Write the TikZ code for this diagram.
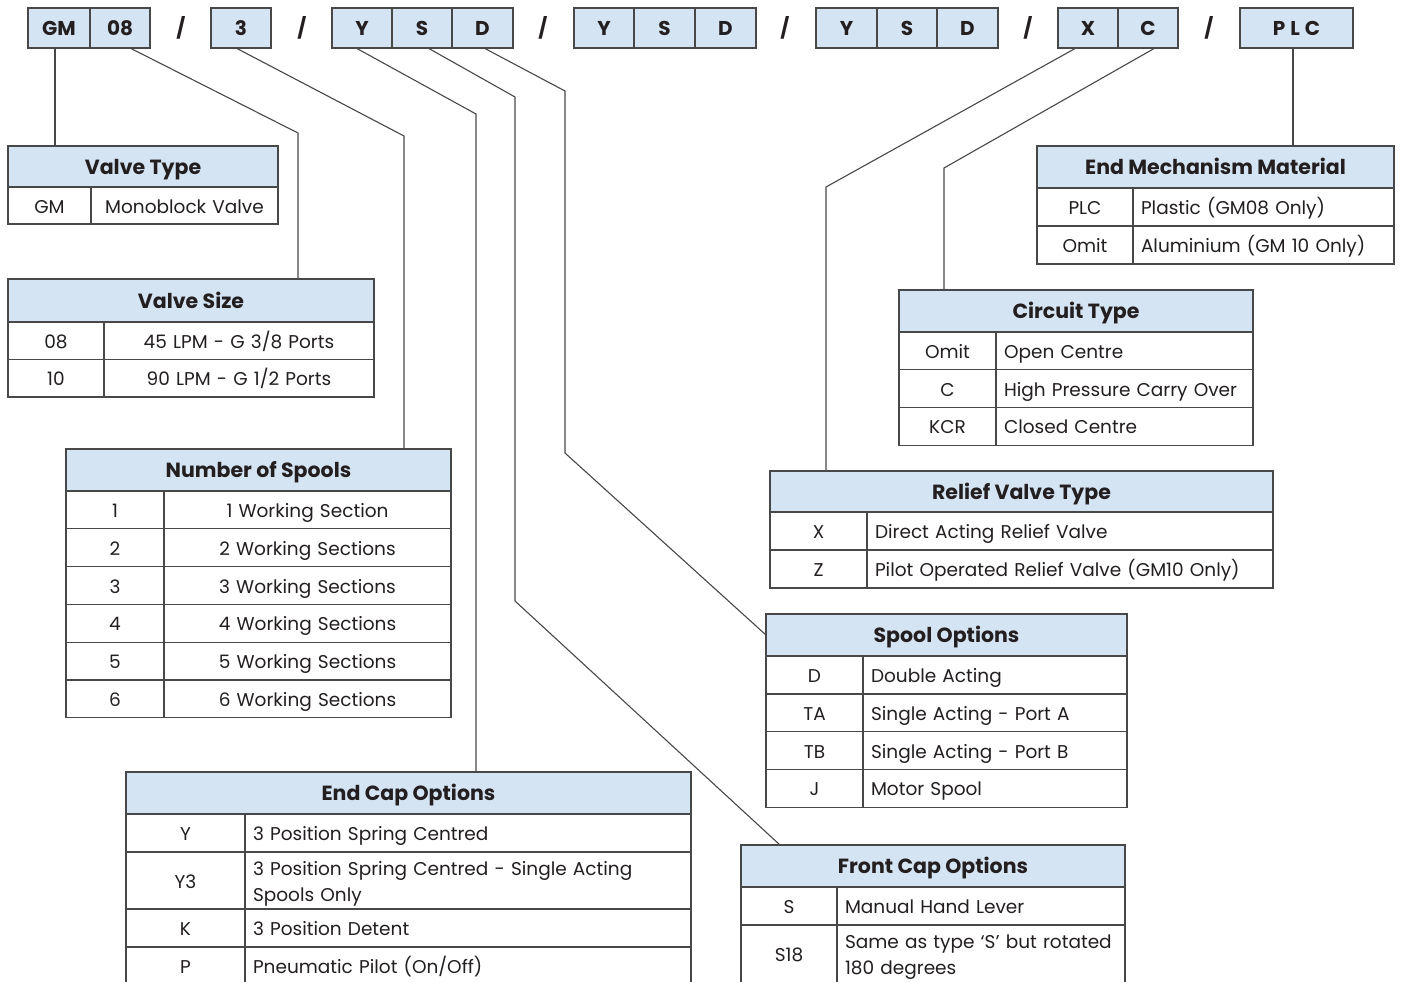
\documentclass[tikz,border=0pt]{standalone}
\usepackage{fontspec}
\setmainfont{Poppins}
\usetikzlibrary{calc}
\definecolor{hb}{RGB}{213,228,243}
\definecolor{lc}{RGB}{72,72,72}
\definecolor{tc}{RGB}{35,31,32}
\tikzset{
  box/.style={draw=lc, line width=1.2pt, fill=hb, anchor=north west, inner sep=0pt, outer sep=0pt, text=tc, text height=17.5pt, text depth=3pt, font=\bfseries\fontsize{20}{22}\selectfont},
  hdr/.style={box, text height=18pt, text depth=3pt, font=\bfseries\fontsize{20.5}{22}\selectfont},
  cell/.style={draw=lc, line width=1.2pt, anchor=north west, inner ysep=0pt, inner xsep=8pt, outer sep=0pt, text=tc, text height=18pt, text depth=3pt, font=\fontsize{18.5}{26}\selectfont},
  two/.style={text height=18pt, text depth=29pt},
  conn/.style={draw=lc, line width=1.1pt},
  slash/.style={text=tc, font=\bfseries\fontsize{20}{22}\selectfont, inner sep=0pt}
}
\newcommand\tb[4]{\node[box, minimum width=#3, minimum height=40] (#1) at (#2,8) {#4};}
\newcommand\hd[6]{\node[hdr, minimum width=#4, minimum height=#5] (#1) at (#2,#3) {#6};}
\newcommand\cc[6]{\pgfmathsetmacro\tw{#4-16}\node[cell, minimum height=#5, text width=\tw pt, align=center] (#1) at (#2,#3) {#6};}
\newcommand\cl[6]{\pgfmathsetmacro\tw{#4-16}\node[cell, minimum height=#5, text width=\tw pt, align=left] (#1) at (#2,#3) {#6};}
\newcommand\clt[6]{\pgfmathsetmacro\tw{#4-16}\node[cell, two, minimum height=#5, text width=\tw pt, align=left] (#1) at (#2,#3) {#6};}
\begin{document}
\begin{tikzpicture}[x=1pt,y=-1pt]
\useasboundingbox[fill=white] (0,0) rectangle (1401,982);
% top code boxes
\tb{bGM}{28}{62}{GM}\tb{b08}{90}{60}{08}
\tb{b3}{211}{60}{3}
\tb{bY1}{332}{60}{Y}\tb{bS1}{392}{60}{S}\tb{bD1}{452}{61}{D}
\tb{bY2}{574}{60}{Y}\tb{bS2}{634}{61}{S}\tb{bD2}{695}{61}{D}
\tb{bY3}{816}{61}{Y}\tb{bS3}{877}{60}{S}\tb{bD3}{937}{61}{D}
\tb{bX}{1058}{60}{X}\tb{bC}{1118}{60}{C}
\tb{bPLC}{1240}{113}{P\hspace{5pt}L\hspace{5pt}C}
\node[slash] (sl1) at (181,28) {/};
\node[slash] (sl2) at (302,28) {/};
\node[slash] (sl3) at (543,28) {/};
\node[slash] (sl4) at (785,28) {/};
\node[slash] (sl5) at (1028,28) {/};
\node[slash] (sl6) at (1209,28) {/};
% Valve Type
\hd{vt}{8}{146}{270}{41}{Valve Type}
\cc{vt1a}{8}{187}{83}{37}{GM}\cc{vt1b}{91}{187}{187}{37}{Monoblock Valve}
% Valve Size
\hd{vs}{8}{279}{366}{43}{Valve Size}
\cc{vs1a}{8}{322}{96}{37.5}{08}\cc{vs1b}{104}{322}{270}{37.5}{45 LPM - G 3/8 Ports}
\cc{vs2a}{8}{359.5}{96}{37.5}{10}\cc{vs2b}{104}{359.5}{270}{37.5}{90 LPM - G 1/2 Ports}
% Number of Spools
\hd{ns}{66}{449}{385}{42}{Number of Spools}
\cc{ns1a}{66}{491}{98}{37.8}{1}\cc{ns1b}{164}{491}{287}{37.8}{1 Working Section}
\cc{ns2a}{66}{528.8}{98}{37.8}{2}\cc{ns2b}{164}{528.8}{287}{37.8}{2 Working Sections}
\cc{ns3a}{66}{566.6}{98}{37.8}{3}\cc{ns3b}{164}{566.6}{287}{37.8}{3 Working Sections}
\cc{ns4a}{66}{604.4}{98}{37.8}{4}\cc{ns4b}{164}{604.4}{287}{37.8}{4 Working Sections}
\cc{ns5a}{66}{642.2}{98}{37.8}{5}\cc{ns5b}{164}{642.2}{287}{37.8}{5 Working Sections}
\cc{ns6a}{66}{680}{98}{37.8}{6}\cc{ns6b}{164}{680}{287}{37.8}{6 Working Sections}
% End Cap Options
\hd{ec}{126}{772}{565}{42}{End Cap Options}
\cc{ec1a}{126}{814}{119}{38}{Y}\cl{ec1b}{245}{814}{446}{38}{3 Position Spring Centred}
\cc{ec2a}{126}{852}{119}{57}{Y3}\clt{ec2b}{245}{852}{446}{57}{3 Position Spring Centred - Single Acting\\Spools Only}
\cc{ec3a}{126}{909}{119}{38}{K}\cl{ec3b}{245}{909}{446}{38}{3 Position Detent}
\cc{ec4a}{126}{947}{119}{38}{P}\cl{ec4b}{245}{947}{446}{38}{Pneumatic Pilot (On/Off)}
% Front Cap Options
\hd{fc}{741}{845}{384}{42}{Front Cap Options}
\cc{fc1a}{741}{887}{96}{38}{S}\cl{fc1b}{837}{887}{288}{38}{Manual Hand Lever}
\cc{fc2a}{741}{925}{96}{58}{S18}\clt{fc2b}{837}{925}{288}{58}{Same as type ‘S’ but rotated\\180 degrees}
% Spool Options
\hd{so}{766}{614}{361}{42}{Spool Options}
\cc{so1a}{766}{656}{97}{38}{D}\cl{so1b}{863}{656}{264}{38}{Double Acting}
\cc{so2a}{766}{694}{97}{37.7}{TA}\cl{so2b}{863}{694}{264}{37.7}{Single Acting - Port A}
\cc{so3a}{766}{731.7}{97}{37.7}{TB}\cl{so3b}{863}{731.7}{264}{37.7}{Single Acting - Port B}
\cc{so4a}{766}{769.4}{97}{37.7}{J}\cl{so4b}{863}{769.4}{264}{37.7}{Motor Spool}
% Relief Valve Type
\hd{rv}{770}{471}{503}{41}{Relief Valve Type}
\cc{rv1a}{770}{512}{97}{38}{X}\cl{rv1b}{867}{512}{406}{38}{Direct Acting Relief Valve}
\cc{rv2a}{770}{550}{97}{38}{Z}\cl{rv2b}{867}{550}{406}{38}{Pilot Operated Relief Valve (GM10 Only)}
% Circuit Type
\hd{ct}{899}{290}{354}{42}{Circuit Type}
\cc{ct1a}{899}{332}{97}{37.7}{Omit}\cl{ct1b}{996}{332}{257}{37.7}{Open Centre}
\cc{ct2a}{899}{369.7}{97}{37.7}{C}\cl{ct2b}{996}{369.7}{257}{37.7}{High Pressure Carry Over}
\cc{ct3a}{899}{407.4}{97}{37.7}{KCR}\cl{ct3b}{996}{407.4}{257}{37.7}{Closed Centre}
% End Mechanism Material
\hd{em}{1037}{146}{357}{42}{End Mechanism Material}
\cc{em1a}{1037}{188}{96}{38}{PLC}\cl{em1b}{1133}{188}{261}{38}{Plastic (GM08 Only)}
\cc{em2a}{1037}{226}{96}{38}{Omit}\cl{em2b}{1133}{226}{261}{38}{Aluminium (GM 10 Only)}
% bend coordinates
\coordinate (kG) at (55,48);
\coordinate (k08) at (298,133);
\coordinate (k3) at (404,136);
\coordinate (kY) at (476,114);
\coordinate (kS1) at (515,97);
\coordinate (kS2) at (515,601);
\coordinate (kD1) at (565,91);
\coordinate (kD2) at (565,453);
\coordinate (kX) at (826,187);
\coordinate (kC) at (944,168);
\coordinate (kP) at (1293,48);
% connectors
\draw[conn] ($(bGM.south)+(-4,0)$) -- (kG |- vt.north);
\draw[conn] ($(b08.south)+(10,0)$) -- (k08) -- (k08 |- vs.north);
\draw[conn] ($(b3.south)+(-5,0)$) -- (k3) -- (k3 |- ns.north);
\draw[conn] ($(bY1.south)+(-6,0)$) -- (kY) -- (kY |- ec.north);
\draw[conn] ($(bS1.south)+(6,0)$) -- (kS1) -- (kS2) -- ($(fc.north west)+(39,0)$);
\draw[conn] ($(bD1.south)+(1.5,0)$) -- (kD1) -- (kD2) -- (so.west);
\draw[conn] ($(bX.south)+(-12,0)$) -- (kX) -- (kX |- rv.north);
\draw[conn] ($(bC.south)+(7,0)$) -- (kC) -- (kC |- ct.north);
\draw[conn] ($(bPLC.south)+(-3.5,0)$) -- (kP |- em.north);
\end{tikzpicture}
\end{document}
